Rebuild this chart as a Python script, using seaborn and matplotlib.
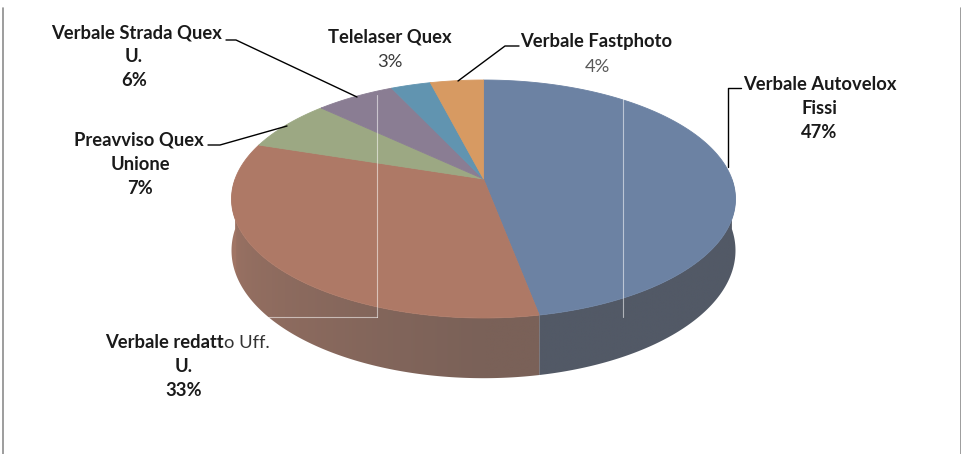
import numpy as np
import matplotlib
matplotlib.use("Agg")
import matplotlib.pyplot as plt
import seaborn as sns
from matplotlib.patches import Polygon
from matplotlib.colors import to_rgb

# slices, clockwise from 12 o'clock
categories = ["Verbale Autovelox Fissi", "Verbale redatto Uff. U.", "Preavviso Quex Unione",
              "Verbale Strada Quex U.", "Telelaser Quex", "Verbale Fastphoto"]
shares = [47, 33, 7, 6, 3, 4]
top_colors = ["#6C82A3", "#AE7966", "#9CA883", "#8A7D93", "#6194B0", "#D79A62"]
side_dark = ["#525966", "#7A6158", "#6E765D", "#5F5766", "#46687B", "#95704B"]
side_light = ["#58606E", "#A07565", "#8A9470", "#7A6D82", "#5A88A0", "#C08A58"]

sns.set_theme(style="white")
plt.rcParams["font.family"] = ["Lato", "DejaVu Sans"]

W, H = 962, 454
fig = plt.figure(figsize=(W / 100, H / 100), dpi=100)
ax = fig.add_axes([0, 0, 1, 1])
ax.axis("off")

# perspective view of a flat cylinder
cx, cy = 483.5, 179
a, b, d, e = 1478, 688, 5.95, 298


def proj(phi, z=0.0):
    p = np.radians(phi)
    s = d + np.cos(p)
    return cx + a * np.sin(p) / s, cy + (-b * np.cos(p) + e * z) / s


def mix(c1, c2, t):
    c1, c2 = np.array(to_rgb(c1)), np.array(to_rgb(c2))
    return c1 + (c2 - c1) * np.asarray(t)[..., None]


bounds = np.concatenate([[0], np.cumsum(shares)]) / sum(shares) * 360.0

# column -> angle on the front half (for the side shading)
front = np.linspace(90, 270, 2000)
front_x = proj(front)[0]

for i in range(len(shares)):
    a0, a1 = max(bounds[i], 90), min(bounds[i + 1], 270)
    if a1 <= a0:
        continue
    arc = np.linspace(a0, a1, 200)
    tx, ty = proj(arc)
    bx, by = proj(arc[::-1], 1.0)
    verts = np.column_stack([np.r_[tx, bx], np.r_[ty, by]])
    poly = Polygon(verts, closed=True, fc="none", ec="none")
    ax.add_patch(poly)
    x0, x1 = verts[:, 0].min() - 1, verts[:, 0].max() + 1
    cols = np.linspace(x0, x1, 300)
    phi = np.interp(cols, front_x[::-1], front[::-1])
    t = np.clip((phi - 180) / 90, 0, 1)
    img = mix(side_dark[i], side_light[i], t)[None, :, :]
    im = ax.imshow(img, extent=(x0, x1, verts[:, 1].max() + 1, verts[:, 1].min() - 1),
                   aspect="auto", interpolation="bilinear", zorder=1)
    im.set_clip_path(poly)

# top faces
for i in range(len(shares)):
    arc = np.linspace(bounds[i], bounds[i + 1], 150)
    tx, ty = proj(arc)
    verts = np.column_stack([np.r_[cx, tx], np.r_[cy, ty]])
    ax.add_patch(Polygon(verts, closed=True, fc=top_colors[i], ec=top_colors[i],
                         lw=0.6, zorder=2))

ax.set_xlim(0, W)
ax.set_ylim(H, 0)

# faint guide lines left over in the original image
for xs, ys in [([377, 377], [95, 317]), ([268, 377], [317, 317]), ([623, 623], [98, 317])]:
    ax.plot(xs, ys, color="white", lw=0.8, alpha=0.55, zorder=3)

# frame edges
ax.plot([3, 3], [8, H], color="#8C8C8C", lw=1.2)
ax.plot([961, 961], [8, H], color="#8C8C8C", lw=1.2)

pct = [f"{round(v / sum(shares) * 100)}%" for v in shares]
fs = 13.2
black = "#1A1A1A"

# leader lines
leaders = [
    ([741, 728, 728], [88, 88, 167]),
    ([226, 236, 357], [40, 40, 97]),
    ([208, 220, 287], [145, 145, 126]),
    ([519, 505, 458], [46, 46, 81]),
]
for xs, ys in leaders:
    ax.plot(xs, ys, color="black", lw=1.0, zorder=3)


def label(x, y, s, bold=True, color=black, ha="center"):
    ax.text(x, y, s, ha=ha, va="center", fontsize=fs, color=color,
            fontweight="bold" if bold else "normal")


label(820, 85, "Verbale Autovelox")
label(819, 108, "Fissi")
label(819, 132, pct[0])

label(224, 343, "Verbale redatt", ha="right")
label(224, 343, "o Uff.", bold=False, color="#333333", ha="left")
label(184, 367, "U.")
label(184, 390, pct[1])

label(139, 140, "Preavviso Quex")
label(140, 164, "Unione")
label(140, 188, pct[2])

label(137, 33, "Verbale Strada Quex")
label(134, 56, "U.")
label(134, 80, pct[3])

label(390, 37, "Telelaser Quex")
label(390, 62, pct[4], bold=False, color="#3A3A3A")

label(596, 42, "Verbale Fastphoto")
label(597, 67, pct[5], bold=False, color="#595959")

fig.savefig("out.png", dpi=100)
